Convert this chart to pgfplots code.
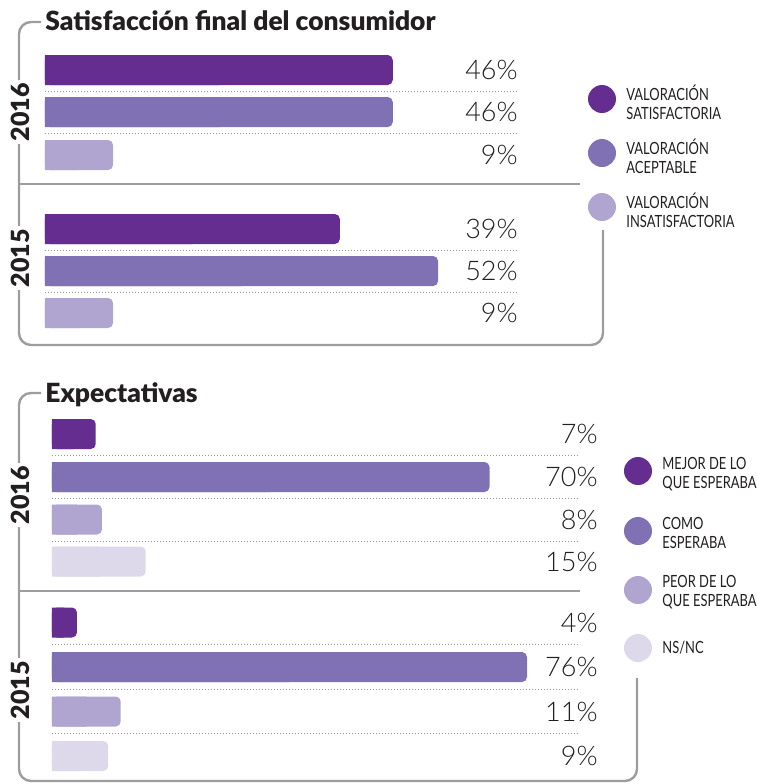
\documentclass[border=0pt]{standalone}
\usepackage{pgfplots}
\pgfplotsset{compat=1.18}
\usepackage{pgfplotstable}
\usepackage{fontspec}
\setmainfont{Lato}
\newfontfamily\pctfont{Lato Light}
\newfontfamily\heavyfont{Lato Black}
\newfontfamily\legfont{Lato}[FakeStretch=0.77]
\definecolor{csat}{HTML}{662D91}
\definecolor{cace}{HTML}{7F71B3}
\definecolor{cins}{HTML}{B0A5D0}
\definecolor{cns}{HTML}{DDD9EB}
\definecolor{framec}{HTML}{9D9D9F}
\definecolor{dotc}{HTML}{9A9A9A}
\definecolor{txt}{HTML}{231F20}

\pgfplotstableread{
year psat sat pace ace pins ins
2016 70 46 112 46 155 9
2015 229 39 271 52 313 9
}\tA

\pgfplotstableread{
year pmej mej pcom com ppeo peo pns ns
2016 434 7 477 70 519.5 8 561.5 15
2015 622.5 4 667 76 711.5 11 756 9
}\tB

\pgfplotsset{
  hbar/.style={xbar, bar shift=0pt, bar width=30, draw=none, fill=#1, rounded corners=2.5pt},
  hbarsq/.style={xbar, bar shift=0pt, bar width=30, draw=none, fill=#1, forget plot},
  pct/.style={draw=none, mark=none, forget plot, point meta=explicit symbolic,
    nodes near coords={\pgfplotspointmeta\%},
    every node near coord/.append style={anchor=east, inner sep=0pt,
      font=\pctfont\fontsize{13.5}{15}\selectfont, text=txt}},
  panel/.style={scale only axis, axis lines=none, clip=false, y dir=reverse},
}

\begin{document}
\begin{tikzpicture}
\begin{scope}[x=0.5pt,y=-0.5pt]
  % frames
  \draw[framec, line width=1.2pt, rounded corners=6pt] (41,22) -- (19,22) -- (19,345) -- (603,345) -- (603,230);
  \draw[framec, line width=1.2pt] (19,184) -- (580,184);
  \draw[framec, line width=1.2pt, rounded corners=6pt] (41,393) -- (19,393) -- (19,781) -- (637,781) -- (637,678);
  \draw[framec, line width=1.2pt] (19,591) -- (580,591);
  % dotted separators
  \foreach \yy in {91,133,250,292}
    \draw[dotc, line width=0.5pt, dash pattern=on 0.5pt off 1pt] (45,\yy) -- (518,\yy);
  \foreach \yy in {455,498,541,644,689,733}
    \draw[dotc, line width=0.5pt, dash pattern=on 0.5pt off 1pt] (52,\yy) -- (580,\yy);
  % titles
  \node[anchor=base west, inner sep=0pt, text=txt, font=\heavyfont\fontsize{13.2}{15}\selectfont] at (45,30) {Satisfacción final del consumidor};
  \node[anchor=base west, inner sep=0pt, text=txt, font=\heavyfont\fontsize{13.2}{15}\selectfont] at (45,402) {Expectativas};
  % year labels
  \tikzset{yl/.style={rotate=90, fill=white, inner xsep=1.5pt, inner ysep=2pt, text=txt, font=\heavyfont\fontsize{12.5}{14}\selectfont}}
  \node[yl] at (20,112) {2016};
  \node[yl] at (20,258) {2015};
  \node[yl] at (20,495) {2016};
  \node[yl] at (20,690) {2015};
  % legends
  \tikzset{lt/.style={anchor=west, inner sep=0pt, align=left, text=txt, font=\legfont\fontsize{8.4}{9.5}\selectfont}}
  \fill[csat] (602,99) circle (14);
  \fill[cace] (602,153) circle (14);
  \fill[cins] (602,207) circle (14);
  \node[lt] at (626,102.5) {VALORACIÓN\\SATISFACTORIA};
  \node[lt] at (626,156.5) {VALORACIÓN\\ACEPTABLE};
  \node[lt] at (626,210.5) {VALORACIÓN\\INSATISFACTORIA};
  \fill[csat] (638,471) circle (14);
  \fill[cace] (638,531) circle (14);
  \fill[cins] (638,590) circle (14);
  \fill[cns] (638,648) circle (14);
  \node[lt] at (662,474) {MEJOR DE LO\\QUE ESPERABA};
  \node[lt] at (662,533) {COMO\\ESPERABA};
  \node[lt] at (662,592) {PEOR DE LO\\QUE ESPERABA};
  \node[lt] at (662,648) {NS/NC};
\end{scope}

% Panel 1: Satisfaccion final del consumidor
\begin{axis}[panel,
  at={(22.5pt,-20pt)}, anchor=north west,
  width=241.92pt, height=152.5pt,
  xmin=0, xmax=64, ymin=40, ymax=345,
]
\addplot[hbar=csat] table[x=sat, y=psat] {\tA};
\addplot[hbarsq=csat] table[x expr=\thisrow{sat}/2, y=psat] {\tA};
\addplot[hbar=cace] table[x=ace, y=pace] {\tA};
\addplot[hbarsq=cace] table[x expr=\thisrow{ace}/2, y=pace] {\tA};
\addplot[hbar=cins] table[x=ins, y=pins] {\tA};
\addplot[hbarsq=cins] table[x expr=\thisrow{ins}/2, y=pins] {\tA};
\addplot[pct] table[x expr=62.57, y=psat, meta=sat] {\tA};
\addplot[pct] table[x expr=62.57, y=pace, meta=ace] {\tA};
\addplot[pct] table[x expr=62.57, y=pins, meta=ins] {\tA};
\end{axis}

% Panel 2: Expectativas
\begin{axis}[panel,
  at={(26pt,-200pt)}, anchor=north west,
  width=281.25pt, height=192.5pt,
  xmin=0, xmax=90, ymin=400, ymax=785,
]
\addplot[hbar=csat] table[x=mej, y=pmej] {\tB};
\addplot[hbarsq=csat] table[x expr=\thisrow{mej}/2, y=pmej] {\tB};
\addplot[hbar=cace] table[x=com, y=pcom] {\tB};
\addplot[hbarsq=cace] table[x expr=\thisrow{com}/2, y=pcom] {\tB};
\addplot[hbar=cins] table[x=peo, y=ppeo] {\tB};
\addplot[hbarsq=cins] table[x expr=\thisrow{peo}/2, y=ppeo] {\tB};
\addplot[hbar=cns] table[x=ns, y=pns] {\tB};
\addplot[hbarsq=cns] table[x expr=\thisrow{ns}/2, y=pns] {\tB};
\addplot[pct] table[x expr=87.36, y=pmej, meta=mej] {\tB};
\addplot[pct] table[x expr=87.36, y=pcom, meta=com] {\tB};
\addplot[pct] table[x expr=87.36, y=ppeo, meta=peo] {\tB};
\addplot[pct] table[x expr=87.36, y=pns, meta=ns] {\tB};
\end{axis}

\pgfresetboundingbox
\path[use as bounding box] (0pt,0pt) rectangle (378.5pt,-392pt);
\end{tikzpicture}
\end{document}
